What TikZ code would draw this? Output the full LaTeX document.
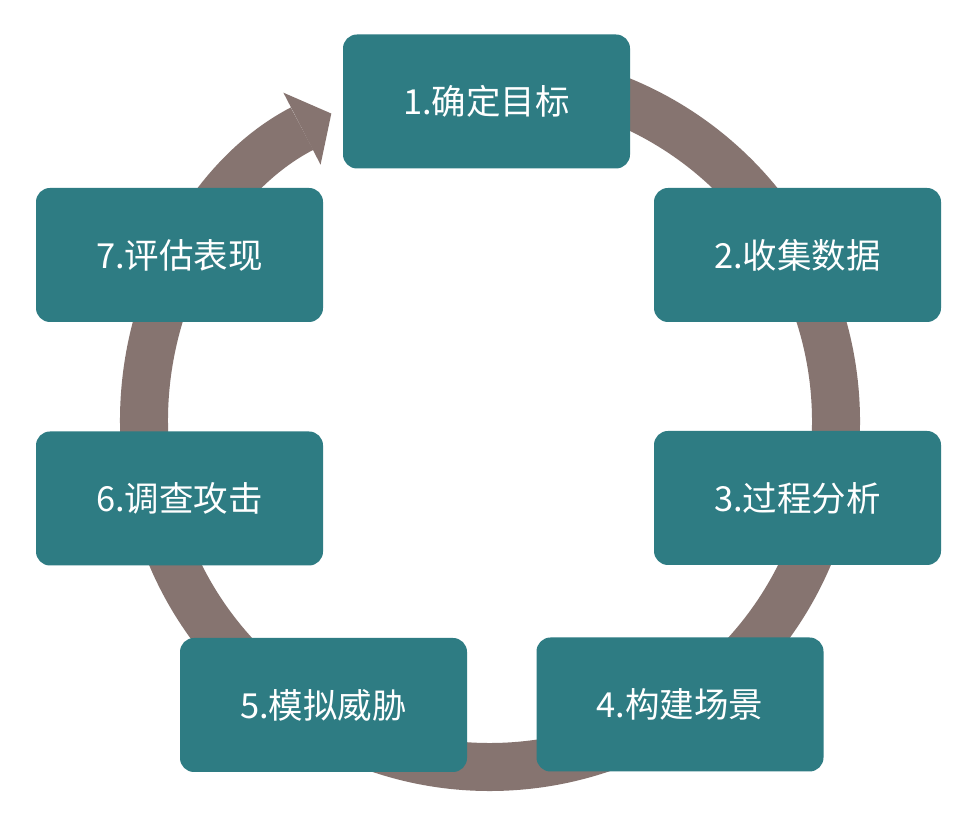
\documentclass[tikz,border=0pt]{standalone}
\usepackage{fontspec}
\usepackage{tikz}
\usetikzlibrary{arrows.meta,positioning}
\newfontfamily\cjk{Noto Sans CJK SC}
\definecolor{stepteal}{RGB}{46,124,131}
\definecolor{ringbrown}{RGB}{134,116,112}

\begin{document}
\begin{tikzpicture}[x=1pt,y=1pt]
    \tikzset{stepbox/.style={fill=stepteal,draw=none,rounded corners=14pt,minimum width=287pt,minimum height=134pt,inner sep=0pt,anchor=center,text=white,font=\cjk\fontsize{34.5}{40}\selectfont},
             ring/.style={ringbrown,line width=48pt,-{Triangle[width=81pt,length=33pt,line width=0pt]}}}
    \useasboundingbox (0,0) rectangle (978,833);
    \fill[white] (0,0) rectangle (978,833);
    \coordinate (ctr) at (490,412);
    % the cycle ring, ends with the arrow into step 1
    \draw[ring] ([shift={(ctr)}]95:346) arc[start angle=95,end angle=-242.7,radius=346pt];
    \foreach \n/\px/\py/\txt in {1/486.5/731.5/确定目标,2/797.5/578/收集数据,3/797.5/335/过程分析,4/680/128.5/构建场景,5/323.5/128/模拟威胁,6/179.5/334.5/调查攻击,7/179.5/578/评估表现}{
      \node[stepbox] (s\n) at (\px,\py) {\n.\txt};
    }
  \end{tikzpicture}
\end{document}
